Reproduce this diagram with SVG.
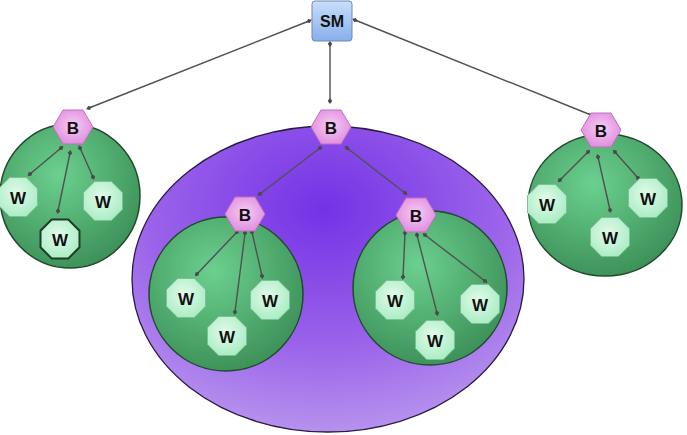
<svg xmlns="http://www.w3.org/2000/svg" width="687" height="435" viewBox="0 0 687 435">
<defs>
<radialGradient id="gPurple" cx="0.49" cy="0.27" r="0.75">
<stop offset="0" stop-color="#7432e6"/>
<stop offset="0.6" stop-color="#9b63ea"/>
<stop offset="1" stop-color="#b895ee"/>
</radialGradient>
<radialGradient id="gGreen" cx="0.42" cy="0.35" r="0.7">
<stop offset="0" stop-color="#6bd08f"/>
<stop offset="1" stop-color="#3b8e56"/>
</radialGradient>
<radialGradient id="gW" cx="0.45" cy="0.4" r="0.65">
<stop offset="0" stop-color="#e2fbea"/>
<stop offset="1" stop-color="#a7ecc2"/>
</radialGradient>
<radialGradient id="gB" cx="0.5" cy="0.45" r="0.6">
<stop offset="0" stop-color="#f6ccf4"/>
<stop offset="1" stop-color="#df8ade"/>
</radialGradient>
<linearGradient id="gSM" x1="0" y1="0" x2="0" y2="1">
<stop offset="0" stop-color="#c9defb"/>
<stop offset="1" stop-color="#86afec"/>
</linearGradient>
<marker id="dot" viewBox="-4 -4 8 8" markerWidth="7" markerHeight="7" refX="0" refY="0" orient="auto" markerUnits="userSpaceOnUse">
<path d="M-3.5,0 L0,-2.6 L3.5,0 L0,2.6 Z" fill="#4a4a4a"/>
</marker>
<polygon id="hex" points="-20,0 -10,-17 10,-17 20,0 10,17 -10,17"/>
<polygon id="oct" points="-8.3,-19.5 8.3,-19.5 19.5,-8.3 19.5,8.3 8.3,19.5 -8.3,19.5 -19.5,8.3 -19.5,-8.3"/>
</defs>
<style>
.cl{fill:url(#gGreen);stroke:#1f4a2c;stroke-width:1.5}
.w{fill:url(#gW);stroke:#7fbf95;stroke-width:1}
.wd{fill:url(#gW);stroke:#1d3d26;stroke-width:2}
.b{fill:url(#gB);stroke:#c070c0;stroke-width:1}
.t{font-family:"Liberation Sans",Arial,sans-serif;font-weight:bold;font-size:17px;fill:#111;text-anchor:middle;dominant-baseline:central}
.c{stroke:#505050;stroke-width:1.4;fill:none;marker-start:url(#dot);marker-end:url(#dot)}
</style>

<g id="cluster-middle"><ellipse cx="328" cy="279" rx="196" ry="153" fill="url(#gPurple)" stroke="#2a1a45" stroke-width="1.3"/></g>
<g id="cluster-left"><ellipse class="cl" cx="70" cy="196" rx="70" ry="72"/></g>
<g id="cluster-inner-left"><ellipse class="cl" cx="226" cy="294" rx="77" ry="77"/></g>
<g id="cluster-inner-right"><ellipse class="cl" cx="430" cy="288" rx="77" ry="77"/></g>
<g id="cluster-right"><ellipse class="cl" cx="605" cy="205" rx="77" ry="71"/></g>

<g id="connectors">
<line class="c" x1="309" y1="21" x2="89" y2="108"/>
<line class="c" x1="330" y1="44" x2="330" y2="101"/>
<line class="c" x1="355" y1="20" x2="591" y2="115"/>
<line class="c" x1="61" y1="148" x2="30" y2="174"/>
<line class="c" x1="70" y1="153" x2="58" y2="211"/>
<line class="c" x1="80" y1="148" x2="93" y2="177"/>
<line class="c" x1="320" y1="148" x2="260" y2="194"/>
<line class="c" x1="347" y1="148" x2="405" y2="193"/>
<line class="c" x1="237" y1="232" x2="197" y2="274"/>
<line class="c" x1="245" y1="233" x2="235" y2="312"/>
<line class="c" x1="252" y1="232" x2="262" y2="276"/>
<line class="c" x1="405" y1="233" x2="403" y2="277"/>
<line class="c" x1="417" y1="235" x2="437" y2="313"/>
<line class="c" x1="425" y1="235" x2="485" y2="281"/>
<line class="c" x1="588" y1="152" x2="560" y2="180"/>
<line class="c" x1="598" y1="157" x2="610" y2="210"/>
<line class="c" x1="615" y1="152" x2="638" y2="178"/>
</g>

<g id="SM"><rect x="312" y="1" width="40" height="40" rx="3" fill="url(#gSM)" stroke="#6a89b8" stroke-width="1"/><text class="t" x="332" y="21" style="font-size:16px">SM</text></g>

<g id="B-left" transform="translate(73,127)"><use href="#hex" class="b"/><text class="t" x="0" y="1">B</text></g>
<g id="B-mid" transform="translate(331,127)"><use href="#hex" class="b"/><text class="t" x="0" y="1">B</text></g>
<g id="B-right" transform="translate(601,130)"><use href="#hex" class="b"/><text class="t" x="0" y="1">B</text></g>
<g id="B-inner-left" transform="translate(245,214)"><use href="#hex" class="b"/><text class="t" x="0" y="1">B</text></g>
<g id="B-inner-right" transform="translate(416,215)"><use href="#hex" class="b"/><text class="t" x="0" y="1">B</text></g>

<g id="W-l1" transform="translate(18,197)"><use href="#oct" class="w"/><text class="t" x="0" y="1">W</text></g>
<g id="W-l2" transform="translate(60,239)"><use href="#oct" class="wd"/><text class="t" x="0" y="1">W</text></g>
<g id="W-l3" transform="translate(103,201)"><use href="#oct" class="w"/><text class="t" x="0" y="1">W</text></g>

<g id="W-il1" transform="translate(186,298)"><use href="#oct" class="w"/><text class="t" x="0" y="1">W</text></g>
<g id="W-il2" transform="translate(227,336)"><use href="#oct" class="w"/><text class="t" x="0" y="1">W</text></g>
<g id="W-il3" transform="translate(270,300)"><use href="#oct" class="w"/><text class="t" x="0" y="1">W</text></g>

<g id="W-ir1" transform="translate(395,300)"><use href="#oct" class="w"/><text class="t" x="0" y="1">W</text></g>
<g id="W-ir2" transform="translate(435,340)"><use href="#oct" class="w"/><text class="t" x="0" y="1">W</text></g>
<g id="W-ir3" transform="translate(480,304)"><use href="#oct" class="w"/><text class="t" x="0" y="1">W</text></g>

<g id="W-r1" transform="translate(547,204)"><use href="#oct" class="w"/><text class="t" x="0" y="1">W</text></g>
<g id="W-r2" transform="translate(610,237)"><use href="#oct" class="w"/><text class="t" x="0" y="1">W</text></g>
<g id="W-r3" transform="translate(648,198)"><use href="#oct" class="w"/><text class="t" x="0" y="1">W</text></g>
</svg>
